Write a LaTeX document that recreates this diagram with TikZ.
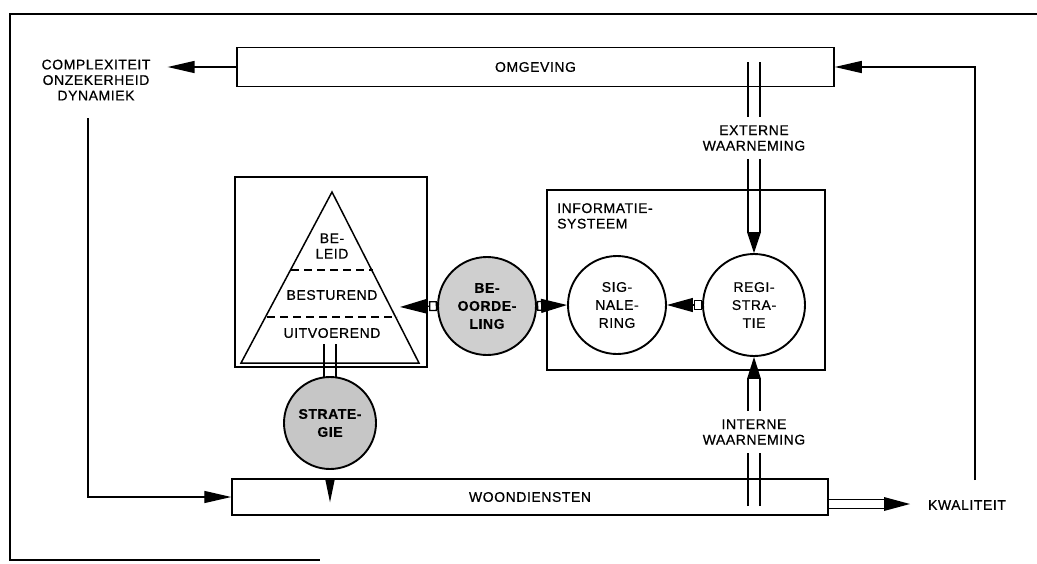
\documentclass[tikz,border=0pt]{standalone}
\usepackage{fontspec}
\setmainfont{Liberation Sans}[LetterSpace=4,FakeBold=0.6]
\usetikzlibrary{arrows.meta,calc}
\begin{document}
\begin{tikzpicture}[x=1pt,y=-1pt,
  font=\fontsize{14}{15.5}\selectfont,
  frame/.style={line width=1.5pt},
  box/.style={draw, line width=1.5pt, inner sep=0pt},
  circ/.style={circle, draw, line width=1.9pt, inner sep=0pt, align=center,
    font=\fontsize{14}{18}\selectfont},
  lbl/.style={align=center, inner sep=8pt},
  arr/.style={line width=1.4pt, -{Triangle[length=27pt,width=12pt]}},
  sqarr/.style={line width=1.3pt, {Square[open,length=8pt,width=10pt,line width=1.3pt]}-{Triangle[length=26pt,width=14pt]}},
  twin/.style={line width=1.1pt},
  dash line/.style={line width=1.5pt, dash pattern=on 8pt off 5pt}]
\useasboundingbox (0,0) rectangle (1037,563);

% outer frame
\draw[frame] (1037,14) -- (10,14) -- (10,560) -- (320,560);

% main boxes
\node[box, minimum width=597pt, minimum height=39pt] (omg) at (535.5,67) {OMGEVING};
\node[box, minimum width=596pt, minimum height=36pt] (woon) at (530,497) {WOONDIENSTEN};
\node[box, minimum width=192pt, minimum height=190pt] (mgmt) at (331,272) {};
\node[box, minimum width=278pt, minimum height=180pt] (info) at (686,280) {};
\node[anchor=north west, align=left, inner sep=0pt] (infolbl) at (557,203) {INFORMATIE-\\SYSTEEM};

% outside labels
\node[align=center, inner sep=3pt] (cx) at (96,80) {COMPLEXITEIT\\ONZEKERHEID\\DYNAMIEK};
\node[inner sep=3pt] (kwal) at (967,505) {KWALITEIT};

% pyramid
\draw[line width=1.5pt] (332,192) coordinate (apex) -- (241,363) coordinate (pbl) -- (419,363) coordinate (pbr) -- cycle;
\draw[dash line] (291,270) -- (373,270);
\draw[dash line] (267,317) -- (397,317);
\node[align=center, inner sep=0pt] (beleid) at (332,246) {BE-\\LEID};
\node[inner sep=0pt] (best) at (332,295) {BESTUREND};
\node[inner sep=0pt] (uitv) at (332,333) {UITVOEREND};
\coordinate (pyrR) at (400,307);

% circles
\node[circ, fill=gray!38, minimum size=98pt, font=\fontsize{14}{18}\selectfont\bfseries] (beo) at (487,306) {BE-\\OORDE-\\LING};
\node[circ, fill=white, minimum size=98pt] (sig) at (617,305) {SIG-\\NALE-\\RING};
\node[circ, fill=white, minimum size=102pt] (reg) at (754,305) {REGI-\\STRA-\\TIE};
\node[circ, fill=gray!45, minimum size=92pt, font=\fontsize{14}{18}\selectfont\bfseries] (strat) at (330,423) {STRATE-\\GIE};

% arrows with square tails
\draw[sqarr] (beo.west) -- (pyrR);
\draw[sqarr] (beo.east) -- (sig.west);
\draw[sqarr] (reg.west) -- (sig.east);

% feedback lines
\coordinate (cxB) at (88,118);
\draw[arr] (cxB) |- (woon.west);
\draw[arr] (omg.west) -- ($(cx.east |- omg.west)+(14,0)$);
\coordinate (rTop) at (975,480);
\draw[arr] (rTop) |- (omg.east);

% externe waarneming
\coordinate (extTop) at (754,62);
\node[lbl] (ext) at (754,138) {EXTERNE\\WAARNEMING};
\draw[twin] ($(extTop)+(-6,0)$) -- ($(ext.north)+(-6,0)$);
\draw[twin] ($(extTop)+(6,0)$) -- ($(ext.north)+(6,0)$);
\draw[twin] ($(ext.south)+(-6,0)$) -- ($(reg.north)+(-6,-21)$);
\draw[twin] ($(ext.south)+(6,0)$) -- ($(reg.north)+(6,-21)$);
\fill ($(reg.north)+(-7,-21)$) -- (reg.north) -- ($(reg.north)+(7,-21)$) -- cycle;

% interne waarneming
\coordinate (intBot) at (754,506);
\node[lbl] (int) at (754,432) {INTERNE\\WAARNEMING};
\draw[twin] ($(intBot)+(-6,0)$) -- ($(int.south)+(-6,0)$);
\draw[twin] ($(intBot)+(6,0)$) -- ($(int.south)+(6,0)$);
\draw[twin] ($(int.north)+(-6,0)$) -- ($(reg.south)+(-6,22)$);
\draw[twin] ($(int.north)+(6,0)$) -- ($(reg.south)+(6,22)$);
\fill ($(reg.south)+(-7,22)$) -- (reg.south) -- ($(reg.south)+(7,22)$) -- cycle;

% kwaliteit output
\coordinate (kwTip) at (910,504);
\draw[twin] ($(woon.east)+(0,2.5)$) -- ($(kwTip)+(-26,-4.5)$);
\draw[twin] ($(woon.east)+(0,11.5)$) -- ($(kwTip)+(-26,4.5)$);
\fill ($(kwTip)+(-26,-7)$) -- (kwTip) -- ($(kwTip)+(-26,7)$) -- cycle;

% uitvoerend -- strategie link
\coordinate (uitB) at (330,344);
\draw[twin] ($(uitB)+(-6,0)$) -- ($(strat.north)+(-6,1)$);
\draw[twin] ($(uitB)+(6,0)$) -- ($(strat.north)+(6,1)$);

% strategie -> woondiensten
\coordinate (sTop) at (strat.south |- woon.north);
\fill ($(sTop)+(-5,0)$) -- ($(sTop)+(0,24)$) -- ($(sTop)+(5,0)$) -- cycle;
\end{tikzpicture}
\end{document}
